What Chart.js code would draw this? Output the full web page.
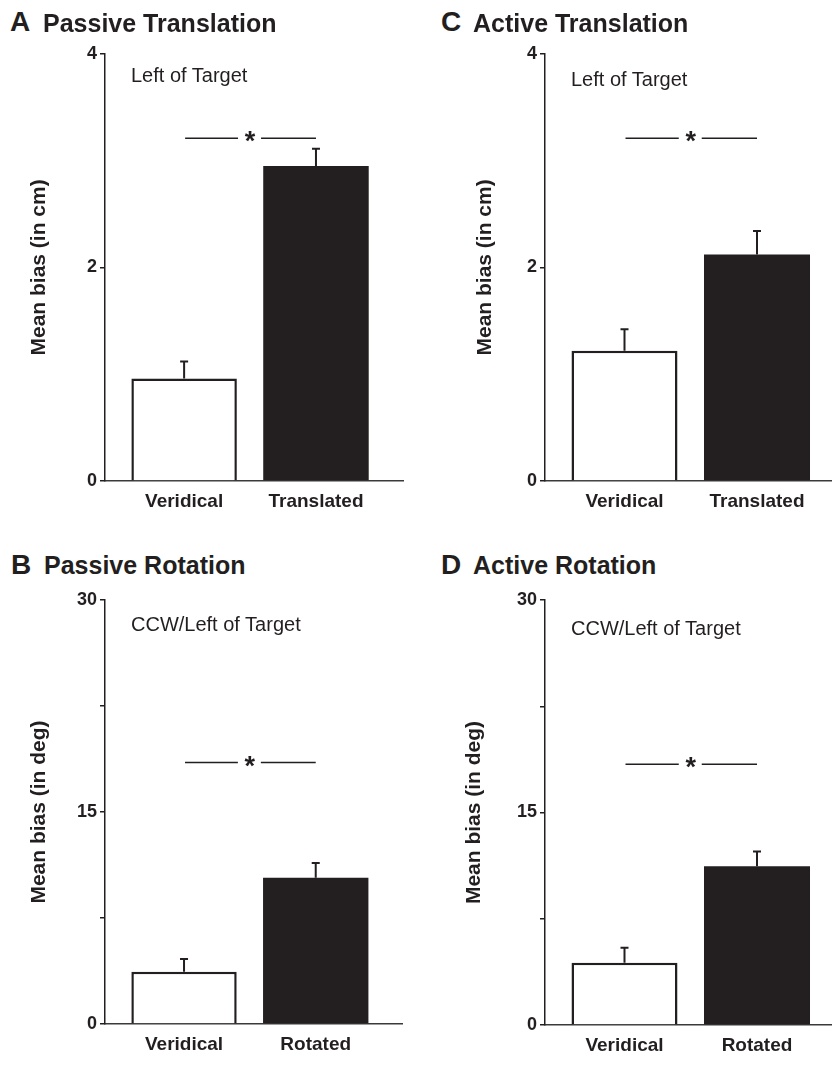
<!DOCTYPE html>
<html lang="en">
<head>
<meta charset="UTF-8">
<title>Mean bias by condition</title>
<script src="https://cdn.jsdelivr.net/npm/chart.js"></script>
<style>
  body { margin: 0; background: #fff; font-family: "Liberation Sans", Arial, sans-serif; color: #231f20; }
  #page { position: relative; width: 832px; height: 1066px; overflow: hidden; }
  canvas { position: absolute; }
  .letter { position: absolute; font-weight: bold; font-size: 28px; line-height: 28px; }
  .title { position: absolute; font-weight: bold; font-size: 25px; line-height: 25px; }
  .note { position: absolute; font-size: 20px; line-height: 20px; }
</style>
</head>
<body>
<div id="page">
  <canvas id="chartA" width="416" height="480" style="left:0;top:40px"></canvas>
  <canvas id="chartC" width="416" height="480" style="left:416px;top:40px"></canvas>
  <canvas id="chartB" width="416" height="481" style="left:0;top:585px"></canvas>
  <canvas id="chartD" width="416" height="481" style="left:416px;top:585px"></canvas>

  <div class="letter" style="left:10px;top:8px">A</div>
  <div class="title" style="left:43px;top:11px">Passive Translation</div>
  <div class="note" style="left:131px;top:65px">Left of Target</div>

  <div class="letter" style="left:441px;top:8px">C</div>
  <div class="title" style="left:473px;top:11px">Active Translation</div>
  <div class="note" style="left:571px;top:69px">Left of Target</div>

  <div class="letter" style="left:11px;top:551px">B</div>
  <div class="title" style="left:44px;top:553px">Passive Rotation</div>
  <div class="note" style="left:131px;top:614px">CCW/Left of Target</div>

  <div class="letter" style="left:441px;top:551px">D</div>
  <div class="title" style="left:473px;top:553px">Active Rotation</div>
  <div class="note" style="left:571px;top:618px">CCW/Left of Target</div>
</div>

<script>
    // categories and axis ticks
    const translationCategories = ['Veridical', 'Translated'];
    const rotationCategories = ['Veridical', 'Rotated'];
    const translationTicks = [0, 2, 4];
    const translationTickLabels = ['0', '2', '4'];
    const rotationTicks = [0, 7.5, 15, 22.5, 30];
    const rotationTickLabels = ['0', '', '15', '', '30'];

    // means, error bars (upper SE) and height of the significance marker
    const passiveTranslationMeans = [0.96, 2.95];
    const passiveTranslationErrors = [0.16, 0.16];
    const passiveTranslationStar = 3.21;

    const activeTranslationMeans = [1.22, 2.12];
    const activeTranslationErrors = [0.20, 0.22];
    const activeTranslationStar = 3.21;

    const passiveRotationMeans = [3.7, 10.35];
    const passiveRotationErrors = [0.9, 1.05];
    const passiveRotationStar = 18.5;

    const activeRotationMeans = [4.4, 11.2];
    const activeRotationErrors = [1.05, 1.05];
    const activeRotationStar = 18.4;

    const INK = '#231f20';
    const FONT = '"Liberation Sans", Arial, sans-serif';
    Chart.defaults.font.family = FONT;
    Chart.defaults.color = INK;

    function errorBars(cfg) {
        return {
            id: 'errorBars',
            afterDatasetsDraw(chart) {
                const ctx = chart.ctx;
                const y = chart.scales.y;
                const bars = chart.getDatasetMeta(0).data;
                ctx.save();
                ctx.strokeStyle = INK;
                ctx.lineWidth = 2;
                bars.forEach((bar, i) => {
                    const top = y.getPixelForValue(cfg.means[i] + cfg.errors[i]);
                    ctx.beginPath();
                    ctx.moveTo(bar.x, bar.y);
                    ctx.lineTo(bar.x, top);
                    ctx.moveTo(bar.x - 4, top);
                    ctx.lineTo(bar.x + 4, top);
                    ctx.stroke();
                });

                // significance line with asterisk
                const sy = y.getPixelForValue(cfg.star);
                const x0 = bars[0].x, x1 = bars[1].x;
                const mid = (x0 + x1) / 2;
                ctx.lineWidth = 1.5;
                ctx.beginPath();
                ctx.moveTo(x0 + 1, sy);
                ctx.lineTo(mid - 12, sy);
                ctx.moveTo(mid + 11, sy);
                ctx.lineTo(x1, sy);
                ctx.stroke();
                ctx.fillStyle = INK;
                ctx.font = 'bold 27px ' + FONT;
                ctx.textAlign = 'center';
                ctx.textBaseline = 'alphabetic';
                ctx.fillText('*', mid, sy + 12);
                ctx.restore();
            }
        };
    }

    function makeChart(canvasId, cfg) {
        const yMax = cfg.ticks[cfg.ticks.length - 1];
        return new Chart(document.getElementById(canvasId), {
            type: 'bar',
            data: {
                datasets: [{
                    data: cfg.means.map((m, i) => ({ x: i, y: m })),
                    backgroundColor: ['#ffffff', INK],
                    borderColor: INK,
                    borderWidth: [2.5, 0],
                    categoryPercentage: 0.8,
                    barPercentage: 1
                }]
            },
            options: {
                responsive: false,
                animation: false,
                events: [],
                layout: { padding: { top: cfg.padTop, right: cfg.padRight, left: 0, bottom: 0 } },
                plugins: {
                    legend: { display: false },
                    tooltip: { enabled: false }
                },
                scales: {
                    x: {
                        type: 'linear',
                        min: cfg.xMin,
                        max: cfg.xMax,
                        offset: false,
                        grid: { display: false, offset: false },
                        border: { display: true, color: '#3a3a3a', width: 1.5 },
                        ticks: {
                            padding: 1,
                            font: { size: 19, weight: 'bold' },
                            callback: v => cfg.categories[v]
                        },
                        afterBuildTicks: s => { s.ticks = cfg.categories.map((c, i) => ({ value: i })); },
                        afterFit: s => { s.height = cfg.xHeight; }
                    },
                    y: {
                        min: 0,
                        max: yMax,
                        grid: { display: true, drawOnChartArea: false, drawTicks: true, tickLength: 5, color: INK, lineWidth: 1.5 },
                        border: { display: true, color: INK, width: 1.5 },
                        ticks: {
                            padding: 3,
                            font: { size: 18, weight: 'bold' },
                            callback: (v, i) => cfg.tickLabels[i]
                        },
                        afterBuildTicks: s => { s.ticks = cfg.ticks.map(v => ({ value: v })); },
                        title: {
                            display: true,
                            text: cfg.yTitle,
                            font: { size: 21, weight: 'bold' },
                            padding: { top: cfg.titlePad, bottom: 0 }
                        },
                        afterFit: s => { s.width = cfg.yWidth; }
                    }
                }
            },
            plugins: [errorBars(cfg)]
        });
    }

    makeChart('chartA', {
        categories: translationCategories, ticks: translationTicks, tickLabels: translationTickLabels,
        means: passiveTranslationMeans, errors: passiveTranslationErrors, star: passiveTranslationStar,
        yTitle: 'Mean bias (in cm)',
        padTop: 12, padRight: 13, xHeight: 39, yWidth: 105, titlePad: 27, xMin: -0.6, xMax: 1.66
    });
    makeChart('chartC', {
        categories: translationCategories, ticks: translationTicks, tickLabels: translationTickLabels,
        means: activeTranslationMeans, errors: activeTranslationErrors, star: activeTranslationStar,
        yTitle: 'Mean bias (in cm)',
        padTop: 12, padRight: 0, xHeight: 39, yWidth: 129, titlePad: 57, xMin: -0.6, xMax: 1.566
    });
    makeChart('chartB', {
        categories: rotationCategories, ticks: rotationTicks, tickLabels: rotationTickLabels,
        means: passiveRotationMeans, errors: passiveRotationErrors, star: passiveRotationStar,
        yTitle: 'Mean bias (in deg)',
        padTop: 15, padRight: 14, xHeight: 42, yWidth: 105, titlePad: 27, xMin: -0.6, xMax: 1.655
    });
    makeChart('chartD', {
        categories: rotationCategories, ticks: rotationTicks, tickLabels: rotationTickLabels,
        means: activeRotationMeans, errors: activeRotationErrors, star: activeRotationStar,
        yTitle: 'Mean bias (in deg)',
        padTop: 15, padRight: 0, xHeight: 41, yWidth: 129, titlePad: 46, xMin: -0.6, xMax: 1.566
    });
</script>
</body>
</html>
